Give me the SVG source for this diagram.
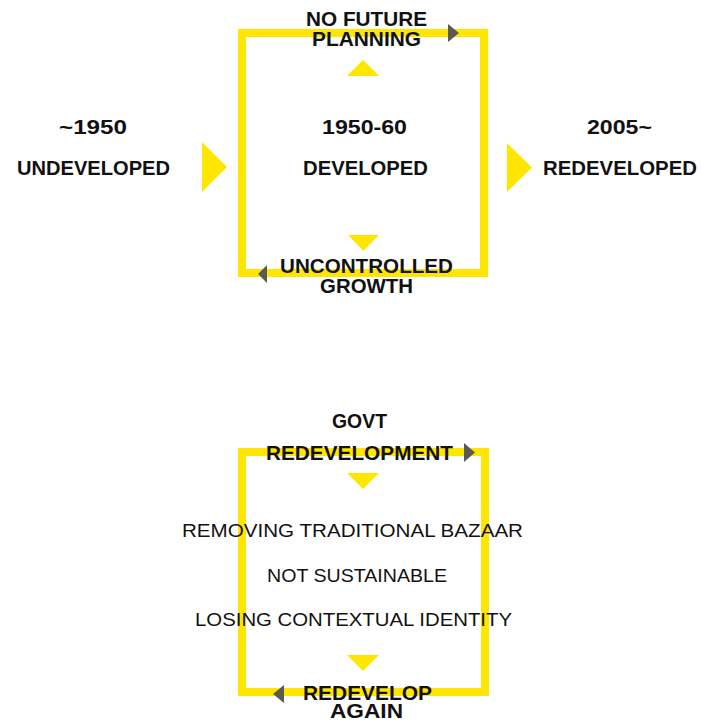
<svg xmlns="http://www.w3.org/2000/svg" width="701" height="723" viewBox="0 0 701 723">
<style>
.box{fill:none;stroke:#FFE600;stroke-width:8}
.ytri{fill:#FFE600}
.dtri{fill:#5a5a50}
text{font-family:"Liberation Sans",Arial,sans-serif;fill:#111}
.b{font-weight:bold;font-size:20px}
.y{font-weight:bold;font-size:21px}
.n{font-weight:normal;font-size:19px}
</style>
<rect width="701" height="723" fill="#ffffff"/>
<g id="connectors">
<rect class="box" x="242" y="33" width="242" height="240"/>
<rect class="box" x="242" y="452" width="243" height="240"/>
<polygon class="ytri" points="202,142 227,167 202,192"/>
<polygon class="ytri" points="507,143 532,167.5 507,192"/>
<polygon class="ytri" points="347,76 363,60 379,76"/>
<polygon class="ytri" points="348,235 379,235 363.5,251"/>
<polygon class="ytri" points="347,473 379,473 363,489"/>
<polygon class="ytri" points="347,655 379,655 363,671"/>
<polygon class="dtri" points="448,24 459,33 448,42"/>
<polygon class="dtri" points="267,265 258,274 267,283"/>
<polygon class="dtri" points="464,443 475,452.5 464,462"/>
<polygon class="dtri" points="284,685 273,694 284,703"/>
</g>
<g id="node-undeveloped">
<text class="y" x="59" y="134" textLength="68" lengthAdjust="spacingAndGlyphs">~1950</text>
<text class="b" x="17" y="175" textLength="153" lengthAdjust="spacingAndGlyphs">UNDEVELOPED</text>
</g>
<g id="node-developed">
<text class="y" x="322" y="134" textLength="85" lengthAdjust="spacingAndGlyphs">1950-60</text>
<text class="b" x="303" y="175" textLength="125" lengthAdjust="spacingAndGlyphs">DEVELOPED</text>
</g>
<g id="node-redeveloped">
<text class="y" x="587" y="134" textLength="65" lengthAdjust="spacingAndGlyphs">2005~</text>
<text class="b" x="543" y="175" textLength="154" lengthAdjust="spacingAndGlyphs">REDEVELOPED</text>
</g>
<g id="node-no-future-planning">
<text class="b" x="306" y="26" textLength="121" lengthAdjust="spacingAndGlyphs">NO FUTURE</text>
<text class="b" x="312" y="46" textLength="109" lengthAdjust="spacingAndGlyphs">PLANNING</text>
</g>
<g id="node-uncontrolled-growth">
<text class="b" x="280" y="273" textLength="173" lengthAdjust="spacingAndGlyphs">UNCONTROLLED</text>
<text class="b" x="320" y="293" textLength="93" lengthAdjust="spacingAndGlyphs">GROWTH</text>
</g>
<g id="node-govt-redevelopment">
<text class="b" x="332" y="428" textLength="55" lengthAdjust="spacingAndGlyphs">GOVT</text>
<text class="b" x="266" y="460" textLength="187" lengthAdjust="spacingAndGlyphs">REDEVELOPMENT</text>
</g>
<g id="node-issues">
<text class="n" x="182" y="537" textLength="341" lengthAdjust="spacingAndGlyphs">REMOVING TRADITIONAL BAZAAR</text>
<text class="n" x="267" y="582" textLength="180" lengthAdjust="spacingAndGlyphs">NOT SUSTAINABLE</text>
<text class="n" x="195" y="626" textLength="317" lengthAdjust="spacingAndGlyphs">LOSING CONTEXTUAL IDENTITY</text>
</g>
<g id="node-redevelop-again">
<text class="b" x="303" y="700" textLength="129" lengthAdjust="spacingAndGlyphs">REDEVELOP</text>
<text class="b" x="330" y="718" textLength="73" lengthAdjust="spacingAndGlyphs">AGAIN</text>
</g>
</svg>
